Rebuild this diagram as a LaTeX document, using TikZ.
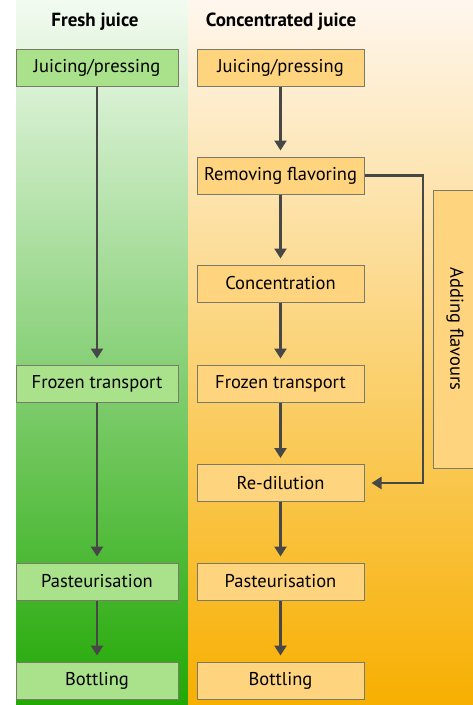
\documentclass[tikz,border=0pt]{standalone}
\usepackage{fontspec}
\setmainfont{PT Sans}
\usetikzlibrary{arrows.meta}

\definecolor{freshtop}{HTML}{F3FBF1}
\definecolor{freshmid}{HTML}{98D872}
\definecolor{freshbot}{HTML}{22A805}
\definecolor{conctop}{HTML}{FFF7EE}
\definecolor{concmid}{HTML}{FFD98C}
\definecolor{concbot}{HTML}{F7AF00}
\definecolor{freshfill}{HTML}{A9E28A}
\definecolor{concfill}{HTML}{FFD47F}
\definecolor{boxline}{HTML}{7A7A6A}
\definecolor{arrowgray}{HTML}{474747}

\begin{document}
\begin{tikzpicture}[x=1pt,y=-1pt]
	\tikzset{
	  HeadStyle/.style = { font = \fontsize{19}{22}\selectfont\bfseries },
	  BoxStyle/.style = { draw = boxline, line width = 1pt, inner sep = 0pt,
	                      minimum height = 37pt,
	                      font = \fontsize{18.5}{22}\selectfont },
	  FreshStyle/.style = { BoxStyle, fill = freshfill, minimum width = 162pt },
	  ConcStyle/.style = { BoxStyle, fill = concfill, minimum width = 167pt },
	  EdgeStyle/.style = { -{Triangle[length=10pt,width=12pt]},
	                       draw = arrowgray, line width = 2.4pt,
	                       shorten > = 6pt } }
	\useasboundingbox (0,0) rectangle (473,705);
	% backgrounds
	\shade[top color=freshtop, middle color=freshmid, bottom color=freshbot]
	  (16,0) rectangle (188,705);
	\shade[top color=conctop, middle color=concmid, bottom color=concbot]
	  (188,0) rectangle (473,705);
	% headers
	\node[HeadStyle] (hfresh) at (95,22) {Fresh juice};
	\node[HeadStyle] (hconc) at (281,22) {Concentrated juice};
	% fresh juice
	\node[FreshStyle] (fjuice) at (97,67.5) {Juicing/pressing};
	\node[FreshStyle] (ffrozen) at (97,383.5) {Frozen transport};
	\node[FreshStyle] (fpast) at (97,581.5) {Pasteurisation};
	\node[FreshStyle] (fbottle) at (97,680.5) {Bottling};
	% concentrated juice
	\node[ConcStyle] (cjuice) at (280.5,67.5) {Juicing/pressing};
	\node[ConcStyle] (cremove) at (280.5,175.5) {Removing flavoring};
	\node[ConcStyle] (cconc) at (280.5,283.5) {Concentration};
	\node[ConcStyle] (cfrozen) at (280.5,383.5) {Frozen transport};
	\node[ConcStyle] (cdilute) at (280.5,483) {Re-dilution};
	\node[ConcStyle] (cpast) at (280.5,581.5) {Pasteurisation};
	\node[ConcStyle] (cbottle) at (280.5,680.5) {Bottling};
	\node[BoxStyle, fill=concfill, rotate=-90, minimum width=278pt,
	      minimum height=44pt] (cadd) at (455,329) {Adding flavours};
	% arrows
	\foreach \a/\b in {fjuice/ffrozen, ffrozen/fpast, fpast/fbottle,
	                   cjuice/cremove, cremove/cconc, cconc/cfrozen,
	                   cfrozen/cdilute, cdilute/cpast, cpast/cbottle}
	  \draw[EdgeStyle] (\a.south) -- (\b.north);
	\coordinate (bend) at (423,175.5);
	\draw[EdgeStyle, shorten > = 7pt] (cremove.east) -- (bend) |- (cdilute.east);
\end{tikzpicture}
\end{document}
